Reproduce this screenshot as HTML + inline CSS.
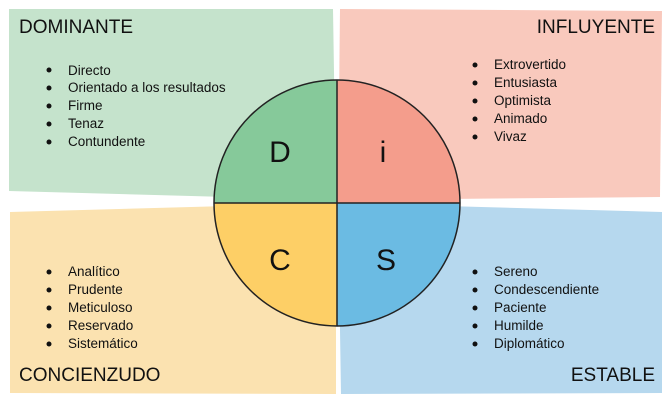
<!DOCTYPE html>
<html><head><meta charset="utf-8"><style>
html,body{margin:0;padding:0;background:#fff;}
svg{display:block}
text{font-family:"Liberation Sans",sans-serif;fill:#111;}
</style></head><body>
<svg width="670" height="400" viewBox="0 0 670 400">
<polygon points="9,9 333,9 336,200 9,191" fill="#c5e3cc"/>
<polygon points="340,9 662,11 660,197 338,200" fill="#f9c9bd"/>
<polygon points="10,212 336,203 336,394 10,393" fill="#fbe2b0"/>
<polygon points="338,203 662,212 662,393 341,394" fill="#b6d8ee"/>
<path d="M337,203 L214,203 A123,123 0 0 1 337,80 Z" fill="#86c99a"/>
<path d="M337,203 L337,80 A123,123 0 0 1 460,203 Z" fill="#f49d8c"/>
<path d="M337,203 L214,203 A123,123 0 0 0 337,326 Z" fill="#fdcf66"/>
<path d="M337,203 L460,203 A123,123 0 0 1 337,326 Z" fill="#6bbbe3"/>
<circle cx="337" cy="203" r="123" fill="none" stroke="#222" stroke-width="1.5"/>
<line x1="214" y1="203" x2="460" y2="203" stroke="#222" stroke-width="1.5"/>
<line x1="337" y1="80" x2="337" y2="326" stroke="#222" stroke-width="1.5"/>
<text x="280" y="162" font-size="30" text-anchor="middle">D</text>
<text x="383" y="162" font-size="30" text-anchor="middle">i</text>
<text x="280" y="270" font-size="30" text-anchor="middle">C</text>
<text x="386" y="270" font-size="30" text-anchor="middle">S</text>
<g font-size="19">
<text x="19" y="33">DOMINANTE</text>
<text x="655" y="33" text-anchor="end">INFLUYENTE</text>
<text x="19" y="381">CONCIENZUDO</text>
<text x="655" y="381" text-anchor="end">ESTABLE</text>
</g>
<g font-size="13.5">
<text x="68" y="75">Directo</text><text x="68" y="92">Orientado a los resultados</text><text x="68" y="110">Firme</text><text x="68" y="128">Tenaz</text><text x="68" y="146">Contundente</text>
<text x="494" y="69">Extrovertido</text><text x="494" y="87">Entusiasta</text><text x="494" y="105">Optimista</text><text x="494" y="123">Animado</text><text x="494" y="141">Vivaz</text>
<text x="68" y="276">Analítico</text><text x="68" y="294">Prudente</text><text x="68" y="312">Meticuloso</text><text x="68" y="330">Reservado</text><text x="68" y="348">Sistemático</text>
<text x="494" y="276">Sereno</text><text x="494" y="294">Condescendiente</text><text x="494" y="312">Paciente</text><text x="494" y="330">Humilde</text><text x="494" y="348">Diplomático</text>
</g>
<g fill="#111">
<circle cx="49" cy="70" r="2.5"/><circle cx="49" cy="88" r="2.5"/><circle cx="49" cy="106" r="2.5"/><circle cx="49" cy="124" r="2.5"/><circle cx="49" cy="142" r="2.5"/>
<circle cx="475" cy="65" r="2.5"/><circle cx="475" cy="83" r="2.5"/><circle cx="475" cy="101" r="2.5"/><circle cx="475" cy="119" r="2.5"/><circle cx="475" cy="137" r="2.5"/>
<circle cx="49" cy="272" r="2.5"/><circle cx="49" cy="290" r="2.5"/><circle cx="49" cy="308" r="2.5"/><circle cx="49" cy="326" r="2.5"/><circle cx="49" cy="344" r="2.5"/>
<circle cx="475" cy="272" r="2.5"/><circle cx="475" cy="290" r="2.5"/><circle cx="475" cy="308" r="2.5"/><circle cx="475" cy="326" r="2.5"/><circle cx="475" cy="344" r="2.5"/>
</g>
</svg>
</body></html>
